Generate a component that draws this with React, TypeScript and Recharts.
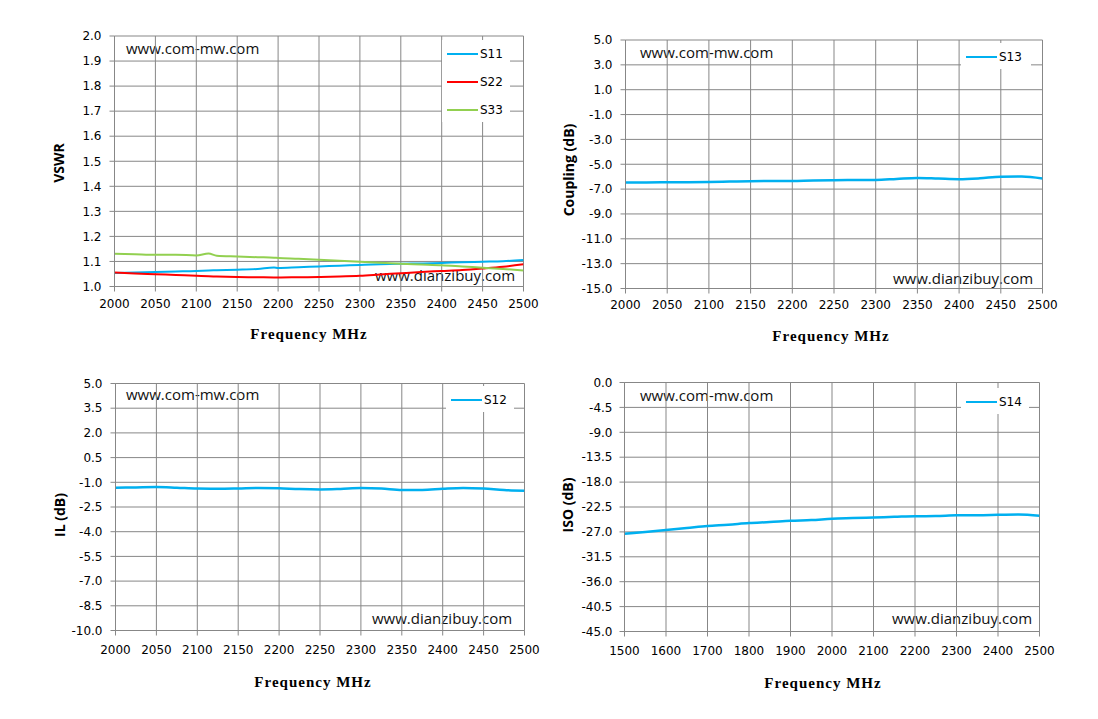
import React from 'react'
import { LineChart, Line, XAxis, YAxis, CartesianGrid, Legend } from 'recharts'

const GRID = '#878787'
const BLUE = '#00B0F0'
const RED = '#FF0000'
const GREEN = '#92D050'

// VSWR chart (top left)
const vswrFreq = [2000, 2025, 2050, 2075, 2100, 2115, 2125, 2150, 2175, 2195, 2200, 2225, 2250, 2275, 2300, 2325, 2350, 2375, 2400, 2425, 2450, 2475, 2500]
const s11 = [1.054, 1.056, 1.058, 1.06, 1.062, 1.064, 1.065, 1.067, 1.07, 1.076, 1.074, 1.077, 1.08, 1.083, 1.086, 1.089, 1.091, 1.092, 1.094, 1.097, 1.099, 1.101, 1.106]
const s22 = [1.056, 1.052, 1.049, 1.046, 1.043, 1.041, 1.04, 1.038, 1.037, 1.036, 1.036, 1.037, 1.038, 1.04, 1.043, 1.048, 1.053, 1.058, 1.062, 1.066, 1.072, 1.079, 1.089]
const s33 = [1.131, 1.129, 1.127, 1.127, 1.124, 1.132, 1.123, 1.12, 1.117, 1.115, 1.114, 1.111, 1.107, 1.103, 1.099, 1.095, 1.091, 1.088, 1.085, 1.08, 1.075, 1.07, 1.064]
const vswrTicks = [1.0, 1.1, 1.2, 1.3, 1.4, 1.5, 1.6, 1.7, 1.8, 1.9, 2.0]

const freqTicks = [2000, 2050, 2100, 2150, 2200, 2250, 2300, 2350, 2400, 2450, 2500]
const freq25 = [2000, 2025, 2050, 2075, 2100, 2125, 2150, 2175, 2200, 2225, 2250, 2275, 2300, 2325, 2350, 2375, 2400, 2425, 2450, 2475, 2500]

// Coupling chart (top right)
const s13 = [-6.47, -6.46, -6.45, -6.44, -6.42, -6.39, -6.36, -6.35, -6.34, -6.3, -6.28, -6.27, -6.26, -6.18, -6.1, -6.15, -6.2, -6.13, -6.0, -5.99, -6.15]
const couplingTicks = [5, 3, 1, -1, -3, -5, -7, -9, -11, -13, -15]

// IL chart (bottom left)
const s12 = [-1.33, -1.31, -1.29, -1.33, -1.38, -1.39, -1.37, -1.34, -1.36, -1.41, -1.43, -1.4, -1.35, -1.38, -1.46, -1.46, -1.39, -1.34, -1.38, -1.47, -1.51]
const ilTicks = [5, 3.5, 2, 0.5, -1, -2.5, -4, -5.5, -7, -8.5, -10]

// ISO chart (bottom right)
const isoFreq = [1500, 1550, 1600, 1650, 1700, 1750, 1800, 1850, 1900, 1950, 2000, 2050, 2100, 2150, 2200, 2250, 2300, 2350, 2400, 2450, 2500]
const s14 = [-27.35, -27.0, -26.64, -26.29, -25.93, -25.7, -25.4, -25.22, -24.99, -24.87, -24.63, -24.51, -24.39, -24.28, -24.16, -24.14, -23.98, -23.98, -23.92, -23.86, -24.1]
const isoTicks = [0, -4.5, -9, -13.5, -18, -22.5, -27, -31.5, -36, -40.5, -45]
const isoFreqTicks = [1500, 1600, 1700, 1800, 1900, 2000, 2100, 2200, 2300, 2400, 2500]

type Series = { key: string; name: string; color: string; width: number }

type PanelProps = {
  left: number
  top: number
  width: number
  height: number
  plot: [number, number, number, number]
  data: Record<string, number>[]
  series: Series[]
  xDomain: [number, number]
  xTicks: number[]
  yDomain: [number, number]
  yTicks: number[]
  yLabel: string
  yLabelPos: [number, number]
  xLabelPos: [number, number]
  xTickMargin: number
  yTickMargin: number
  legendBox: [number, number, number, number]
  marks: [number, number, number, number]
}

const tickStyle = { fontSize: 12, fill: '#000', fontFamily: 'DejaVu Sans' }
const markStyle: React.CSSProperties = {
  position: 'absolute', fontFamily: 'Open Sans', fontSize: 15, color: '#111',
  lineHeight: '20px', whiteSpace: 'nowrap',
}

function Panel(p: PanelProps) {
  const [x0, y0, x1, y1] = p.plot
  const xAxisH = 30
  const margin = {
    top: y0 - p.top,
    right: p.left + p.width - x1,
    bottom: p.top + p.height - y1 - xAxisH,
    left: 0,
  }
  const [lx, ly, lw, lh] = p.legendBox
  return (
    <div style={{ position: 'absolute', left: p.left, top: p.top, width: p.width, height: p.height }}>
      <div style={{ ...markStyle, left: p.marks[0] - p.left, top: p.marks[1] - p.top - 10 }}>www.com-mw.com</div>
      <div style={{ ...markStyle, left: p.marks[2] - p.left, top: p.marks[3] - p.top - 10 }}>www.dianzibuy.com</div>
      <LineChart width={p.width} height={p.height} data={p.data} margin={margin}>
        <CartesianGrid stroke={GRID} strokeWidth={1} />
        <XAxis
          dataKey="f" type="number" domain={p.xDomain} ticks={p.xTicks} interval={0}
          height={xAxisH} tick={tickStyle} tickSize={5} tickMargin={p.xTickMargin}
          stroke={GRID} tickLine={{ stroke: GRID }} allowDataOverflow
          label={() => (
            <text
              x={p.xLabelPos[0] - p.left} y={p.xLabelPos[1] - p.top}
              textAnchor="middle" dominantBaseline="central"
              style={{ fontFamily: 'Liberation Serif', fontWeight: 700, fontSize: 15, letterSpacing: 1, fill: '#000' }}
            >Frequency MHz</text>
          )}
        />
        <YAxis
          type="number" domain={p.yDomain} ticks={p.yTicks} interval={0}
          width={x0 - p.left} tick={tickStyle} tickSize={5} tickMargin={p.yTickMargin}
          tickFormatter={(v: number) => v.toFixed(1)}
          stroke={GRID} tickLine={{ stroke: GRID }} allowDataOverflow
          label={() => (
            <text
              transform={`translate(${p.yLabelPos[0] - p.left},${p.yLabelPos[1] - p.top}) rotate(-90)`}
              textAnchor="middle" dominantBaseline="central"
              style={{ fontFamily: 'Open Sans', fontWeight: 700, fontSize: 14, fill: '#000' }}
            >{p.yLabel}</text>
          )}
        />
        <Legend
          layout="vertical" align="center" verticalAlign="middle"
          wrapperStyle={{ left: lx - p.left, top: ly - p.top, width: lw, height: lh, background: '#fff' }}
          content={() => (
            <div style={{ position: 'relative', width: lw, height: lh }}>
              {p.series.map((s, i) => (
                <div key={s.key} style={{ position: 'absolute', left: 5, top: 14 + i * 28 - 8, height: 16, display: 'flex', alignItems: 'center' }}>
                  <div style={{ width: 31, height: 2.5, background: s.color }} />
                  <span style={{ fontFamily: 'DejaVu Sans', fontSize: 12, marginLeft: 2, color: '#000' }}>{s.name}</span>
                </div>
              ))}
            </div>
          )}
        />
        {p.series.map(s => (
          <Line
            key={s.key} dataKey={s.key} name={s.name} type="monotone" stroke={s.color}
            strokeWidth={s.width} dot={false} activeDot={false} isAnimationActive={false}
          />
        ))}
      </LineChart>
    </div>
  )
}

const vswrData = vswrFreq.map((f, i) => ({ f, s11: s11[i], s22: s22[i], s33: s33[i] }))
const couplingData = freq25.map((f, i) => ({ f, s13: s13[i] }))
const ilData = freq25.map((f, i) => ({ f, s12: s12[i] }))
const isoData = isoFreq.map((f, i) => ({ f, s14: s14[i] }))

export default function App() {
  return (
    <div style={{ position: 'absolute', left: 0, top: 0, width: 1098, height: 719, background: '#fff' }}>
      <Panel
        left={0} top={0} width={549} height={350}
        plot={[114.5, 36, 523.5, 286.5]}
        data={vswrData}
        series={[
          { key: 's11', name: 'S11', color: BLUE, width: 2 },
          { key: 's22', name: 'S22', color: RED, width: 2 },
          { key: 's33', name: 'S33', color: GREEN, width: 2 },
        ]}
        xDomain={[2000, 2500]} xTicks={freqTicks}
        yDomain={[1, 2]} yTicks={vswrTicks}
        yLabel="VSWR" yLabelPos={[58, 163]} xLabelPos={[309, 334]}
        xTickMargin={8} yTickMargin={8}
        legendBox={[442, 40, 68, 82]}
        marks={[126, 48, 375, 275]}
      />
      <Panel
        left={549} top={0} width={549} height={350}
        plot={[625.5, 40, 1042.5, 288.5]}
        data={couplingData}
        series={[{ key: 's13', name: 'S13', color: BLUE, width: 2.5 }]}
        xDomain={[2000, 2500]} xTicks={freqTicks}
        yDomain={[-15, 5]} yTicks={couplingTicks}
        yLabel="Coupling (dB)" yLabelPos={[568, 170]} xLabelPos={[831, 336]}
        xTickMargin={7} yTickMargin={8}
        legendBox={[961, 43, 70, 26]}
        marks={[640, 52, 893, 278]}
      />
      <Panel
        left={0} top={350} width={549} height={369}
        plot={[115.5, 383.5, 524.5, 630.5]}
        data={ilData}
        series={[{ key: 's12', name: 'S12', color: BLUE, width: 2.5 }]}
        xDomain={[2000, 2500]} xTicks={freqTicks}
        yDomain={[-10, 5]} yTicks={ilTicks}
        yLabel="IL (dB)" yLabelPos={[59, 515]} xLabelPos={[313, 682]}
        xTickMargin={10} yTickMargin={8}
        legendBox={[446, 386, 68, 26]}
        marks={[126, 394, 372, 618]}
      />
      <Panel
        left={549} top={350} width={549} height={369}
        plot={[624.5, 382.5, 1039.5, 631.5]}
        data={isoData}
        series={[{ key: 's14', name: 'S14', color: BLUE, width: 2.5 }]}
        xDomain={[1500, 2500]} xTicks={isoFreqTicks}
        yDomain={[-45, 0]} yTicks={isoTicks}
        yLabel="ISO (dB)" yLabelPos={[567, 505]} xLabelPos={[823, 683]}
        xTickMargin={10} yTickMargin={7}
        legendBox={[961, 388, 68, 26]}
        marks={[640, 395, 892, 618]}
      />
    </div>
  )
}
